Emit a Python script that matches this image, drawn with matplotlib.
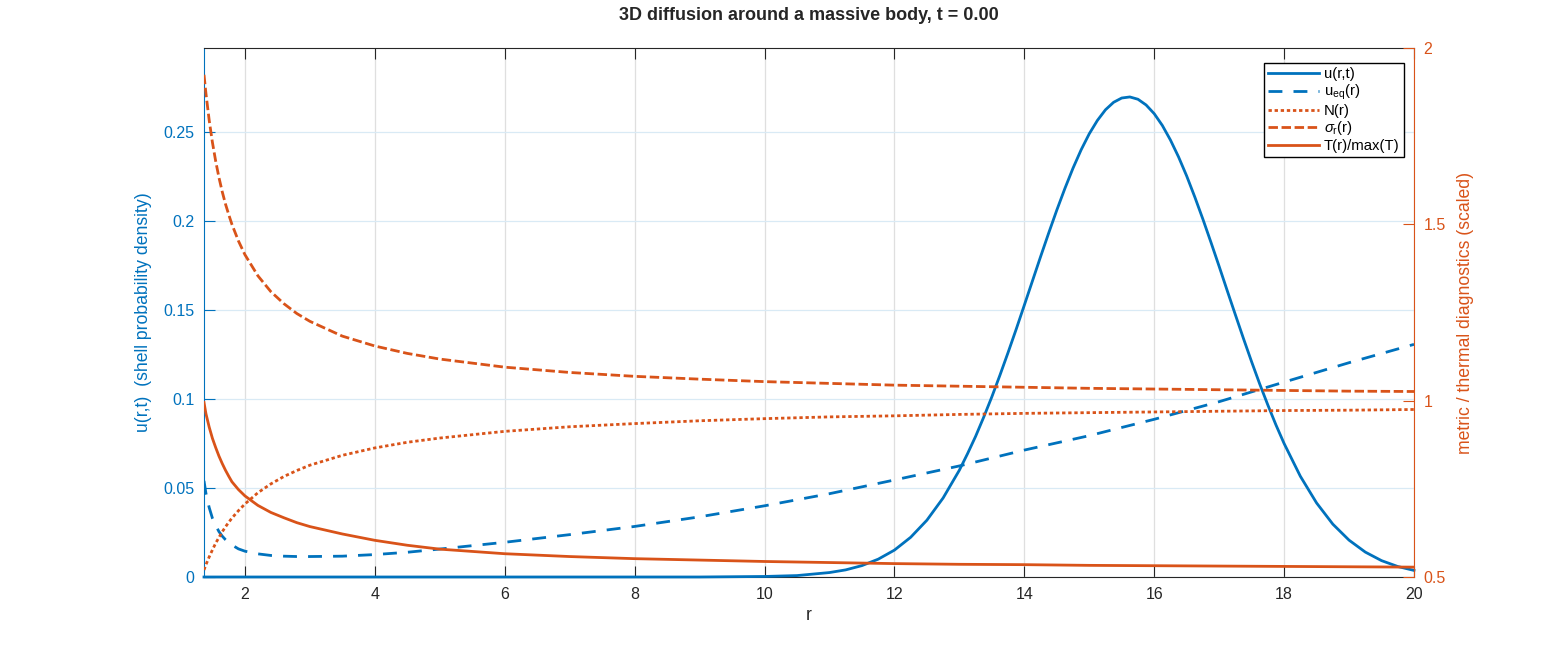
import matplotlib
matplotlib.use('Agg')
import matplotlib.pyplot as plt
from matplotlib.ticker import FormatStrFormatter

plt.rcParams['font.family'] = ['Liberation Sans', 'DejaVu Sans']
plt.rcParams['mathtext.fontset'] = 'custom'
plt.rcParams['mathtext.rm'] = 'Liberation Sans'
plt.rcParams['mathtext.it'] = 'Liberation Sans:italic'

BLUE = '#0072BD'
ORANGE = '#D95319'
DARK = '#262626'

# u(r,t) at t = 0 (left axis)
r_u = [1.37, 9.0, 10.0, 10.5, 11.0, 11.25, 11.5, 11.75, 12.0, 12.25, 12.5, 12.75,
       13.0, 13.125, 13.25, 13.375, 13.5, 13.625, 13.75, 13.875, 14.0, 14.125,
       14.25, 14.375, 14.5, 14.625, 14.75, 14.875, 15.0, 15.125, 15.25, 15.375,
       15.5, 15.625, 15.75, 15.875, 16.0, 16.125, 16.25, 16.375, 16.5, 16.625,
       16.75, 16.875, 17.0, 17.125, 17.25, 17.375, 17.5, 17.625, 17.75, 17.875,
       18.0, 18.25, 18.5, 18.75, 19.0, 19.25, 19.5, 19.75, 20.0]
u_rt = [0.0, 0.0, 0.0003, 0.0008, 0.0025, 0.0040, 0.0064, 0.0100, 0.0151, 0.0223,
        0.0319, 0.0444, 0.0600, 0.0692, 0.0790, 0.0898, 0.1012, 0.1134, 0.1261,
        0.1392, 0.1527, 0.1663, 0.1799, 0.1932, 0.2061, 0.2183, 0.2297, 0.2400,
        0.2490, 0.2565, 0.2625, 0.2667, 0.2691, 0.2697, 0.2684, 0.2652, 0.2603,
        0.2537, 0.2455, 0.2360, 0.2253, 0.2135, 0.2010, 0.1879, 0.1745, 0.1608,
        0.1473, 0.1339, 0.1209, 0.1084, 0.0966, 0.0854, 0.0750, 0.0566, 0.0416,
        0.0297, 0.0207, 0.0140, 0.0092, 0.0059, 0.0037]

# shared radius grid for u_eq and the right-axis diagnostics
r = [1.37, 1.40, 1.45, 1.50, 1.55, 1.60, 1.65, 1.70, 1.75, 1.80, 1.90, 2.0, 2.2,
     2.4, 2.6, 2.8, 3.0, 3.5, 4.0, 4.5, 5.0, 6.0, 7.0, 8.0, 9.0, 10.0, 11.0, 12.0,
     13.0, 14.0, 15.0, 16.0, 17.0, 18.0, 19.0, 20.0]
u_eq = [0.054, 0.047, 0.039, 0.033, 0.029, 0.0255, 0.023, 0.021, 0.0193, 0.018,
        0.0158, 0.0145, 0.0130, 0.0121, 0.0117, 0.0115, 0.0115, 0.0117, 0.0126,
        0.0139, 0.0157, 0.0195, 0.0238, 0.0284, 0.0338, 0.0400, 0.0468, 0.0545,
        0.0624, 0.0713, 0.0794, 0.0886, 0.0985, 0.1095, 0.1204, 0.1307]
N_r = [0.520, 0.535, 0.557, 0.577, 0.596, 0.612, 0.628, 0.642, 0.655, 0.667,
       0.688, 0.707, 0.739, 0.764, 0.785, 0.802, 0.817, 0.845, 0.866, 0.882,
       0.894, 0.913, 0.926, 0.935, 0.943, 0.949, 0.954, 0.957, 0.961, 0.964,
       0.966, 0.968, 0.970, 0.972, 0.973, 0.975]
sigma_r = [1.924, 1.871, 1.795, 1.732, 1.679, 1.633, 1.593, 1.558, 1.528, 1.500,
           1.453, 1.414, 1.354, 1.309, 1.275, 1.247, 1.225, 1.183, 1.155, 1.134,
           1.118, 1.095, 1.080, 1.069, 1.061, 1.054, 1.049, 1.044, 1.041, 1.038,
           1.035, 1.033, 1.031, 1.029, 1.027, 1.026]
T_scaled = [0.995, 0.963, 0.925, 0.893, 0.867, 0.843, 0.822, 0.803, 0.786, 0.770,
            0.748, 0.730, 0.703, 0.683, 0.668, 0.654, 0.643, 0.622, 0.604, 0.590,
            0.579, 0.566, 0.558, 0.552, 0.548, 0.544, 0.541, 0.538, 0.536, 0.535,
            0.533, 0.532, 0.531, 0.530, 0.529, 0.528]

fig = plt.figure(figsize=(15.64, 6.5), dpi=100)
ax = fig.add_axes([204 / 1564, 73 / 650, 1210 / 1564, 529 / 650])
ax2 = ax.twinx()

l1, = ax.plot(r_u, u_rt, color=BLUE, lw=2, label='u(r,t)', zorder=3, clip_on=False)
l2, = ax.plot(r, u_eq, color=BLUE, lw=2, dashes=(5, 4), label='u$_{\\rm eq}$(r)')
l3, = ax2.plot(r, N_r, color=ORANGE, lw=2, dashes=(1.2, 1.0), label='N(r)')
l4, = ax2.plot(r, sigma_r, color=ORANGE, lw=2, dashes=(3.4, 1.3), label='$\\sigma_{\\rm r}$(r)')
l5, = ax2.plot(r, T_scaled, color=ORANGE, lw=2, label='T(r)/max(T)')

ax.set_xlim(1.37, 20)
ax.set_ylim(0, 0.2972)
ax2.set_ylim(0.5, 2)
ax.set_xticks(range(2, 21, 2))
ax.set_yticks([0, 0.05, 0.1, 0.15, 0.2, 0.25])
ax2.set_yticks([0.5, 1, 1.5, 2])
ax.yaxis.set_major_formatter(FormatStrFormatter('%g'))
ax2.yaxis.set_major_formatter(FormatStrFormatter('%g'))

ax.set_axisbelow(True)
ax.xaxis.grid(True, color='#DFDFDF', lw=0.9)
ax.yaxis.grid(True, color='#D9EAF5', lw=0.9)

ax.tick_params(axis='x', direction='in', length=8, top=True, colors=DARK,
               labelsize=11.5, pad=7)
ax.tick_params(axis='y', direction='in', length=8, colors=BLUE, right=False,
               labelsize=11.5, pad=7)
ax2.tick_params(axis='y', direction='in', length=8, colors=ORANGE,
                labelsize=11.5, pad=7)

ax.spines['left'].set_color(BLUE)
ax.spines['right'].set_visible(False)
ax.spines['top'].set_color(DARK)
ax.spines['bottom'].set_color(DARK)
for side in ['left', 'top', 'bottom']:
    ax2.spines[side].set_visible(False)
ax2.spines['right'].set_color(ORANGE)

ax.set_xlabel('r', fontsize=12.7, color=DARK, labelpad=4)
ax.set_ylabel('u(r,t)  (shell probability density)', fontsize=12.7, color=BLUE, labelpad=8)
ax2.set_ylabel('metric / thermal diagnostics (scaled)', fontsize=12.7, color=ORANGE, labelpad=8)

fig.text(809 / 1564, 1 - 16 / 650, '3D diffusion around a massive body, t = 0.00',
         ha='center', va='center', fontsize=13, fontweight='bold', color=DARK)

leg = ax2.legend([l1, l2, l3, l4, l5], [h.get_label() for h in [l1, l2, l3, l4, l5]],
                 loc='upper right', bbox_to_anchor=(0.9917, 0.9716), borderaxespad=0,
                 fontsize=10.7, fancybox=False, framealpha=1, edgecolor='black',
                 handlelength=3.4, handletextpad=0.35, labelspacing=0.1, borderpad=0.3)
leg.get_frame().set_linewidth(1.0)

fig.savefig('out.png', dpi=100)
